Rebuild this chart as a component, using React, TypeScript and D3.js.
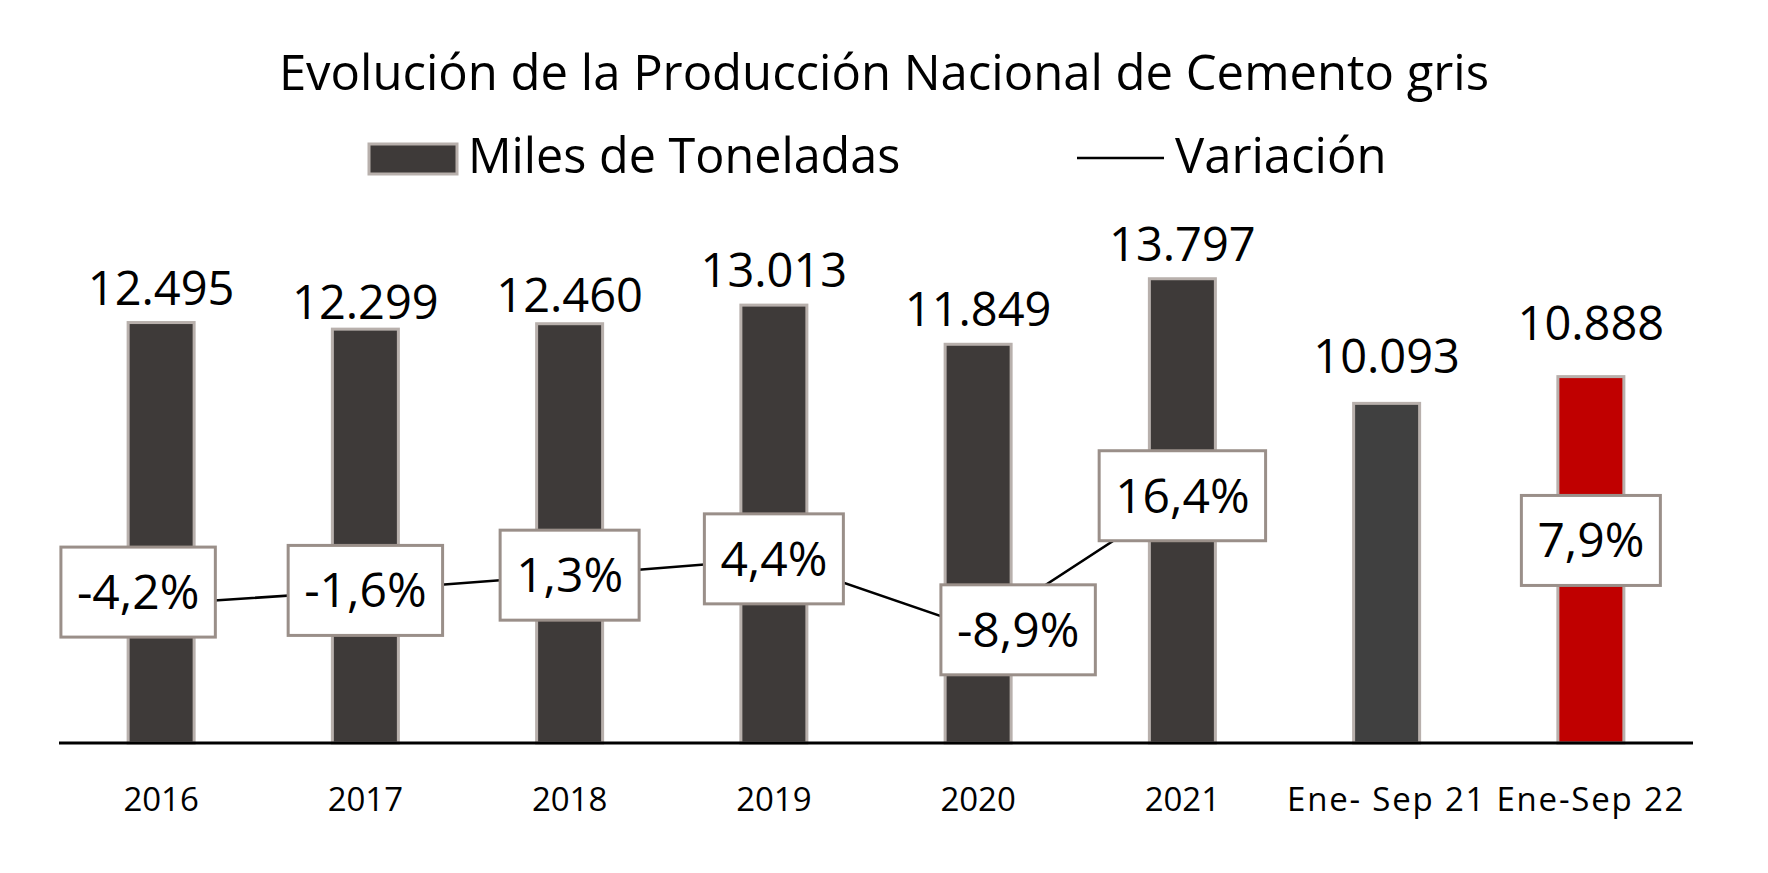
import React, { useEffect, useRef } from "react";
import * as d3 from "d3";

const categories = ["2016", "2017", "2018", "2019", "2020", "2021", "Ene- Sep 21", "Ene-Sep 22"];
const produccion = [12495, 12299, 12460, 13013, 11849, 13797, 10093, 10888];
const variacion: (number | null)[] = [-4.2, -1.6, 1.3, 4.4, -8.9, 16.4, null, 7.9];
const barColors = ["#3e3a39", "#3e3a39", "#3e3a39", "#3e3a39", "#3e3a39", "#3e3a39", "#404040", "#c00000"];

const titleText = "Evolución de la Producción Nacional de Cemento gris";
const legendBars = "Miles de Toneladas";
const legendLine = "Variación";

// layout-only nudges (px) for individual labels
const pctNudge: Record<number, [number, number]> = { 0: [-23, -12], 4: [40, 1] };
const valNudge: Record<number, number> = { 1: 8, 2: 6, 6: -12, 7: -19 };

const W = 1768, H = 873;
const FONT = "'Open Sans', 'DejaVu Sans', sans-serif";

export default function App() {
  const ref = useRef<SVGSVGElement>(null);
  useEffect(() => {
    const svg = d3.select(ref.current);
    svg.selectAll("*").remove();
    const loc = d3.formatLocale({ decimal: ",", thousands: ".", grouping: [3], currency: ["", ""], minus: "-" });
    const fmtN = loc.format(",d");
    const fmtP = loc.format(".1f");

    const x = d3.scaleBand<string>().domain(categories).range([59, 1693]).paddingInner(0).paddingOuter(0);
    const y = d3.scaleLinear().domain([0, 16000]).range([743, 743 - 16000 * 0.03365]);
    const y2 = d3.scaleLinear().domain([-20, 20]).range([582 + 105.2, 582 - 105.2]);
    const bw = 66;

    // title
    svg.append("text").attr("x", 884).attr("y", 90).attr("text-anchor", "middle")
      .attr("font-family", FONT).attr("font-size", 49).attr("fill", "#000").text(titleText);

    // legend
    svg.append("rect").attr("x", 369).attr("y", 144).attr("width", 88).attr("height", 30)
      .attr("fill", "#3e3a39").attr("stroke", "#b8b0ac").attr("stroke-width", 3);
    svg.append("text").attr("x", 468).attr("y", 173).attr("font-family", FONT).attr("font-size", 48.5)
      .attr("fill", "#000").text(legendBars);
    svg.append("line").attr("x1", 1077).attr("x2", 1164).attr("y1", 158).attr("y2", 158)
      .attr("stroke", "#000").attr("stroke-width", 2.5);
    svg.append("text").attr("x", 1175).attr("y", 173).attr("font-family", FONT).attr("font-size", 49)
      .attr("fill", "#000").text(legendLine);

    const cx = (c: string) => (x(c) as number) + x.bandwidth() / 2;

    // bars
    svg.append("g").selectAll("rect").data(categories).join("rect")
      .attr("x", (c) => cx(c) - bw / 2)
      .attr("y", (_, i) => y(produccion[i]))
      .attr("width", bw)
      .attr("height", (_, i) => y(0) - y(produccion[i]))
      .attr("fill", (_, i) => barColors[i])
      .attr("stroke", "#b8b0ac").attr("stroke-width", 3);

    // value labels
    svg.append("g").selectAll("text").data(categories).join("text")
      .attr("x", (c) => cx(c))
      .attr("y", (_, i) => y(produccion[i]) - 18 + (valNudge[i] || 0))
      .attr("text-anchor", "middle").attr("font-family", FONT).attr("font-size", 47).attr("fill", "#000")
      .text((_, i) => fmtN(produccion[i]));

    // axis line
    svg.append("line").attr("x1", 59).attr("x2", 1693).attr("y1", 743).attr("y2", 743)
      .attr("stroke", "#000").attr("stroke-width", 3);

    // x labels
    svg.append("g").selectAll("text").data(categories).join("text")
      .attr("x", (c) => cx(c)).attr("y", 811).attr("text-anchor", "middle")
      .attr("font-family", FONT).attr("font-size", 33).attr("fill", "#000")
      .attr("letter-spacing", (c) => (/[A-Za-z]/.test(c) ? 1.8 : 0))
      .text((c) => c);

    // line
    const pts = categories.map((c, i) => ({ c, i, v: variacion[i] }));
    const line = d3.line<any>().defined((d) => d.v !== null && d.i <= 5)
      .x((d) => cx(d.c)).y((d) => y2(d.v));
    svg.append("path").datum(pts).attr("d", line as any).attr("fill", "none")
      .attr("stroke", "#000").attr("stroke-width", 2.5);

    // pct label boxes
    const g = svg.append("g");
    pts.filter((d) => d.v !== null).forEach((d) => {
      const nud = pctNudge[d.i] || [0, 0];
      const px = cx(d.c) + nud[0];
      const py = y2(d.v as number) + nud[1];
      const grp = g.append("g");
      const rect = grp.append("rect").attr("fill", "#fff").attr("stroke", "#9a8f89").attr("stroke-width", 3);
      const t = grp.append("text").attr("x", px).attr("y", py + 17).attr("text-anchor", "middle")
        .attr("font-family", FONT).attr("font-size", 48).attr("fill", "#000")
        .text(fmtP(d.v as number) + "%");
      const tw = (t.node() as SVGTextElement).getComputedTextLength();
      const bwid = tw + 32;
      rect.attr("x", px - bwid / 2).attr("y", py - 45).attr("width", bwid).attr("height", 90);
    });
  }, []);
  return (
    <svg ref={ref} width={W} height={H} style={{ position: "absolute", left: 0, top: 0, background: "#fff" }} />
  );
}
